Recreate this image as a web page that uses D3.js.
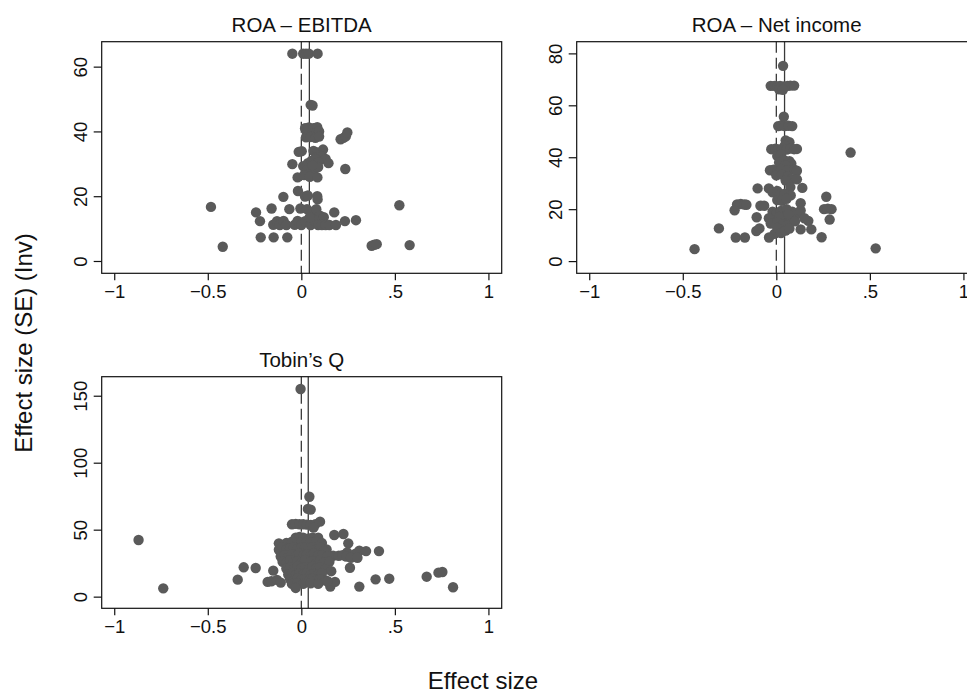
<!DOCTYPE html>
<html>
<head>
<meta charset="utf-8">
<script src="https://cdn.jsdelivr.net/npm/d3@7"></script>
<style>
  body { margin: 0; background: #fff; }
  svg { display: block; font-family: "Liberation Sans", Arial, sans-serif; }
</style>
</head>
<body>
<div class="chart"></div>
<script>
// panel titles, in drawing order
var panelTitles = ["ROA \u2013 EBITDA", "ROA \u2013 Net income", "Tobin\u2019s Q"];

// effect size / inverse SE pairs
var ebitdaPoints = [
  [-0.048,64],[0.010,64],[0.025,64],[0.040,64],[0.087,64],
  [0.050,48.2],[0.060,48],
  [0.020,41],[0.040,41.2],[0.065,41],[0.085,41.3],[0.030,39.5],[0.055,39.2],[0.080,39.6],[0.095,40],
  [0.025,38.2],[0.050,38.3],[0.075,38],[0.095,38.4],
  [0.210,37.6],[0.225,38],[0.238,38.5],[0.246,39.7],
  [-0.014,33.7],[0.002,33.9],[0.065,34],[0.085,33.5],[0.116,34.4],[0.100,32.5],
  [0.080,32],[0.110,32.3],[0.130,31.5],[0.145,30.2],
  [-0.048,29.9],
  [0.010,29.3],[0.035,30.2],[0.055,31],[0.075,31.5],[0.090,30.5],[0.030,28],[0.050,27.2],[0.070,28.3],[0.090,29],[0.060,29.5],
  [-0.020,25.8],[0.015,26.5],[0.045,26],[0.086,25.8],
  [0.235,28.4],
  [-0.018,21.6],[-0.096,19.8],[0.020,19.9],[0.035,20.2],[0.085,20],[0.087,19],
  [-0.483,16.7],[0.524,17.2],[-0.242,15],[-0.159,16.2],[-0.064,16],[-0.005,16.2],[0.030,16],[0.065,15.3],[0.080,16],
  [0.100,14],[0.120,13.5],[0.176,15],
  [-0.221,12.3],[-0.150,11.2],[-0.130,12.3],[-0.115,11.1],[-0.095,12.4],[-0.080,11.1],[-0.035,11.2],[-0.020,12.4],
  [0.000,11.1],[0.020,12.3],[0.050,11.1],[0.070,12.5],[0.090,11.1],[0.110,11.1],[0.130,11.1],[0.150,11.1],[0.185,11.1],[0.045,13.5],
  [0.233,12.3],[0.292,12.6],
  [-0.217,7.3],[-0.148,7.3],[-0.075,7.3],
  [-0.420,4.4],[0.376,4.7],[0.390,5],[0.403,5.2],[0.579,4.9]
];

var netIncomePoints = [
  [0.036,75.2],
  [-0.030,67.5],[-0.010,67.5],[0.005,67.3],[0.020,67.5],[0.040,67.3],[0.060,67.5],[0.075,67.6],[0.095,67.6],[0.015,66.2],[0.035,66],
  [0.040,55.6],
  [0.010,52],[0.025,52.2],[0.045,52],[0.065,52.1],[0.085,52],
  [0.050,46.5],[0.070,45.8],[0.045,44.5],
  [-0.027,43.1],[-0.005,43.3],[0.010,43],[0.030,43.2],[0.055,43],[0.075,43.3],[0.095,43.1],[0.110,43.2],
  [0.397,41.8],
  [0.005,40.5],[0.025,41],[0.040,39],[0.070,38.5],[0.080,37.5],[0.015,38],[0.050,36.8],
  [-0.034,35],[-0.015,35.2],[0.005,34.5],[0.025,35.2],[0.060,35],[0.095,35.2],[0.110,34.8],
  [0.000,33],[0.030,33.3],[0.060,32.5],[0.080,31.5],[0.110,31.5],[0.050,31],
  [-0.100,28],[-0.040,28],[0.139,28.2],[0.075,28.5],
  [-0.020,26.5],[0.005,27],[0.020,25.8],[0.045,26],[0.077,25.3],
  [0.267,24.8],
  [0.005,23.5],[0.030,23.2],[0.055,24],
  [-0.210,21.8],[-0.190,22],[-0.170,21.8],[-0.160,21.7],[-0.085,21.3],[-0.065,21.3],[0.130,22.3],
  [-0.223,19.6],[0.255,20],[0.275,20.2],[0.295,20],
  [-0.020,19],[0.000,18.2],[0.025,19.3],[0.055,20],[0.085,19],[0.110,18.2],[0.130,19.5],[0.045,17.2],[0.080,16.3],[0.015,17],[0.065,18],
  [-0.105,16.9],[-0.040,16.5],[0.171,15.5],[0.285,16],[0.150,16.5],
  [-0.030,14.5],[0.005,15],[0.035,14.2],[0.060,13.8],[0.100,15.3],
  [-0.107,11.6],[-0.090,12.6],[-0.307,12.6],[0.130,12.2],[0.187,12.2],
  [-0.010,10.5],[0.005,12.8],[0.025,10.8],[0.050,11.8],[0.070,12.5],
  [-0.217,9.1],[-0.168,9.1],[-0.039,9.1],[0.242,9.2],
  [-0.437,4.6],[0.531,4.9]
];

var tobinPoints = [
  [-0.004,155],
  [0.043,74.6],[0.035,65.5],[0.050,65],
  [-0.050,54],[-0.030,54.3],[-0.010,54],[0.010,54],[0.030,53.8],[0.050,53.5],[0.075,54],[0.100,56],[0.065,51.5],
  [0.176,46],[0.225,46.8],[0.251,39.8],[-0.120,39.8],[-0.870,42.3],
  [-0.030,44],[-0.010,44.5],[0.010,44],[0.040,43.5],[0.060,44],[0.090,44],
  [-0.080,40],[-0.050,41],[-0.020,40],[0.000,40.5],[0.030,41],[0.050,40.5],[0.080,41],[0.110,40],
  [0.135,35.2],[0.130,33],[0.245,33],[0.290,32],[0.310,34.3],[0.346,34],[0.415,34],
  [0.170,30.5],[0.200,30.5],[0.220,31],[0.240,30],[0.265,29],[0.300,29],
  [-0.120,35],[-0.100,37],[-0.080,35],[-0.060,36],[-0.040,37],[-0.020,35.5],[0.000,36.5],[0.020,37],[0.040,36],[0.060,37],[0.080,35],[0.100,36.5],[0.120,34],
  [-0.110,30],[-0.090,31],[-0.070,29.5],[-0.050,31.5],[-0.030,30],[-0.010,32],[0.010,30.5],[0.030,31.5],[0.050,30],[0.070,32],[0.090,30.5],[0.110,31],[0.140,30],
  [-0.100,26],[-0.080,25],[-0.060,27],[-0.040,25.5],[-0.020,26.5],[0.000,25],[0.020,27],[0.040,25.5],[0.060,26.5],[0.080,25],[0.100,27],[0.120,25.5],[0.150,26],
  [-0.080,21],[-0.060,22],[-0.040,20.5],[-0.020,22.5],[0.000,21],[0.020,22],[0.040,20.5],[0.060,22.5],[0.080,21],[0.100,22],[0.130,20.5],[0.160,19],[0.260,21.6],
  [-0.070,16.5],[-0.050,17.5],[-0.030,16],[-0.010,17.5],[0.010,16.5],[0.030,17.5],[0.050,16],[0.070,17],[0.090,16.5],[0.110,17.5],
  [-0.060,13],[-0.040,12],[-0.020,13.5],[0.000,12.5],[0.020,13],[0.040,12],[0.060,13.5],[0.080,12],[0.100,13],[0.130,12],
  [-0.050,9.5],[-0.020,10],[0.010,9.5],[0.050,10],[0.090,9.5],
  [-0.030,6.5],[0.155,7.5],[0.180,11],[0.140,11.5],
  [-0.308,21.9],[-0.244,21.4],[-0.340,12.7],[-0.150,19.4],[-0.180,11],[-0.160,11.5],[-0.130,12.5],[-0.110,10.5],
  [0.310,7.5],[0.397,12.9],[0.470,13.4],[0.670,14.9],[0.733,17.9],[0.754,18.4],[0.811,7],[-0.738,6.2]
];

// pooled effect (solid line) per panel; the dashed line sits at zero
var pooledEffects = [0.043, 0.044, 0.037];

// tick values
var xTicks = [-1, -0.5, 0, 0.5, 1];
var yTicksEbitda = [0, 20, 40, 60];
var yTicksNetIncome = [0, 20, 40, 60, 80];
var yTicksTobin = [0, 50, 100, 150];

// axis ranges
var xDomain = [-1.067, 1.071];
var yDomains = [[-3.8, 67.7], [-4.7, 84.5], [-8.7, 164.2]];

var svgWidth = 967;
var svgHeight = 693;
var dotColor = "#5a5a5a";
var lineColor = "#3a3a3a";

var svg = d3.select(".chart")
  .append("svg")
  .attr("width", svgWidth)
  .attr("height", svgHeight);

// panel boxes
var boxW = 400, boxH = 231.6;
var panels = [
  {left: 101.7, top: 41.7, pts: ebitdaPoints, yTicks: yTicksEbitda},
  {left: 576.7, top: 41.7, pts: netIncomePoints, yTicks: yTicksNetIncome},
  {left: 101.7, top: 376.7, pts: tobinPoints, yTicks: yTicksTobin}
];

function fmt(d) {
  var s = d3.format("")(d).replace(/^0\./, ".").replace(/^-0\./, "-.");
  return s.replace("-", "\u2212");
}

panels.forEach(function(p, i) {
  var g = svg.append("g").attr("transform", "translate(" + p.left + "," + p.top + ")");

  var x = d3.scaleLinear().domain(xDomain).range([0, boxW]);
  var y = d3.scaleLinear().domain(yDomains[i]).range([boxH, 0]);

  // dashed zero line and solid pooled line
  g.append("line")
    .attr("x1", x(0)).attr("x2", x(0))
    .attr("y1", 0).attr("y2", boxH)
    .attr("stroke", lineColor).attr("stroke-width", 1.3)
    .attr("stroke-dasharray", "11,5");
  g.append("line")
    .attr("x1", x(pooledEffects[i])).attr("x2", x(pooledEffects[i]))
    .attr("y1", 0).attr("y2", boxH)
    .attr("stroke", lineColor).attr("stroke-width", 1.3);

  g.selectAll("circle")
    .data(p.pts)
    .enter().append("circle")
    .attr("cx", function(d) { return x(d[0]); })
    .attr("cy", function(d) { return y(d[1]); })
    .attr("r", 5.2)
    .attr("fill", dotColor);

  // frame
  g.append("rect")
    .attr("width", boxW).attr("height", boxH)
    .attr("fill", "none").attr("stroke", "#111").attr("stroke-width", 1.2);

  // axes
  var bottomAxis = d3.axisBottom(x).tickValues(xTicks).tickSize(7).tickPadding(5).tickFormat(fmt);
  var gx = g.append("g").attr("transform", "translate(0," + boxH + ")").call(bottomAxis);
  gx.select(".domain").remove();
  gx.selectAll("line").attr("stroke", "#111").attr("stroke-width", 1.2);
  gx.selectAll("text").attr("font-size", 18.5).attr("fill", "#111")
    .attr("font-family", "Liberation Sans, Arial, sans-serif");

  var leftAxis = d3.axisLeft(y).tickValues(p.yTicks).tickSize(8).tickFormat(fmt);
  var gy = g.append("g").call(leftAxis);
  gy.select(".domain").remove();
  gy.selectAll("line").attr("stroke", "#111").attr("stroke-width", 1.2);
  gy.selectAll("text")
    .attr("x", null).attr("dy", null)
    .attr("text-anchor", "middle")
    .attr("font-size", 18.5).attr("fill", "#111")
    .attr("font-family", "Liberation Sans, Arial, sans-serif")
    .attr("transform", "translate(-15,0) rotate(-90)");

  // title
  g.append("text")
    .attr("x", boxW / 2).attr("y", -10)
    .attr("text-anchor", "middle")
    .attr("font-size", 20.5).attr("fill", "#111")
    .text(panelTitles[i]);
});

// shared axis titles
svg.append("text")
  .attr("transform", "translate(32,343) rotate(-90)")
  .attr("text-anchor", "middle")
  .attr("font-size", 24).attr("fill", "#111")
  .text("Effect size (SE) (Inv)");

svg.append("text")
  .attr("x", 483).attr("y", 689)
  .attr("text-anchor", "middle")
  .attr("font-size", 24).attr("fill", "#111")
  .text("Effect size");
</script>
</body>
</html>
